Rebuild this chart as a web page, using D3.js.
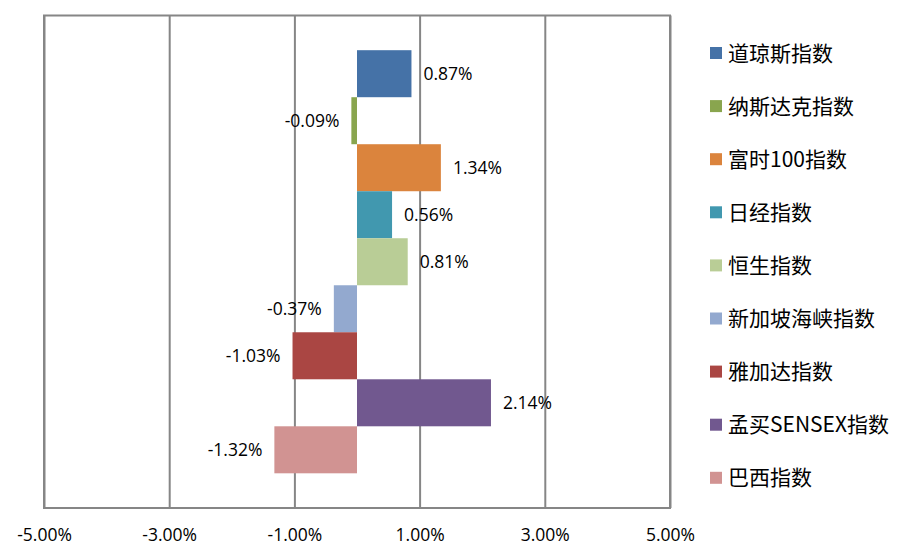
<!DOCTYPE html>
<html><head><meta charset="utf-8">
<script src="https://cdn.jsdelivr.net/npm/d3@7/dist/d3.min.js"></script>
<style>
html,body{margin:0;padding:0;background:#fff;}
svg{display:block;}
</style></head>
<body>
<svg id="chart" width="917" height="555"></svg>
<script>
const seriesNames = ["道琼斯指数","纳斯达克指数","富时100指数","日经指数","恒生指数","新加坡海峡指数","雅加达指数","孟买SENSEX指数","巴西指数"];
const seriesValues = [0.87, -0.09, 1.34, 0.56, 0.81, -0.37, -1.03, 2.14, -1.32];
const seriesColors = ["#4572A7","#89A54E","#DB843D","#4198AF","#B9CD96","#93A9CF","#AA4643","#71588F","#D19392"];
const tickValues = [-5, -3, -1, 1, 3, 5];
const tickLabels = ["-5.00%","-3.00%","-1.00%","1.00%","3.00%","5.00%"];

const svg = d3.select("#chart");
const plot = {left: 44, right: 670, top: 15.5, bottom: 508};
const latin = "'Open Sans', 'Noto Sans', sans-serif";
const cjk = "'Noto Sans CJK SC', sans-serif";
const gridColor = "#868686";

const x = d3.scaleLinear().domain([-5, 5]).range([plot.left, plot.right]);
const yGroup = d3.scaleBand().domain(["g"]).range([plot.top, plot.bottom]).paddingInner(0).paddingOuter(0.082);
const y = d3.scaleBand().domain(seriesNames).range([yGroup("g"), yGroup("g") + yGroup.bandwidth()]).padding(0);

// gridlines
const grid = svg.append("g")
  .attr("transform", `translate(0,${plot.bottom})`)
  .call(d3.axisBottom(x).tickValues(tickValues).tickSize(-(plot.bottom - plot.top)).tickFormat(""));
grid.select(".domain").remove();
grid.selectAll(".tick line").attr("stroke", gridColor).attr("stroke-width", 2);

// plot border
svg.append("rect")
  .attr("x", plot.left).attr("y", plot.top)
  .attr("width", plot.right - plot.left).attr("height", plot.bottom - plot.top)
  .attr("fill", "none").attr("stroke", gridColor).attr("stroke-width", 2);

// bars
svg.append("g").selectAll("rect")
  .data(seriesNames)
  .join("rect")
  .attr("x", (d, i) => Math.min(x(0), x(seriesValues[i])))
  .attr("y", d => y(d))
  .attr("width", (d, i) => Math.abs(x(seriesValues[i]) - x(0)))
  .attr("height", y.bandwidth())
  .attr("fill", (d, i) => seriesColors[i]);

// data labels
svg.append("g").selectAll("text")
  .data(seriesNames)
  .join("text")
  .attr("x", (d, i) => seriesValues[i] >= 0 ? x(seriesValues[i]) + 12 : x(seriesValues[i]) - 12)
  .attr("y", d => y(d) + y.bandwidth() / 2)
  .attr("dy", "0.36em")
  .attr("text-anchor", (d, i) => seriesValues[i] >= 0 ? "start" : "end")
  .attr("font-family", latin).attr("font-size", 17.5).attr("fill", "#000")
  .text((d, i) => seriesValues[i].toFixed(2) + "%");

// x axis labels
const ax = svg.append("g")
  .attr("transform", `translate(0,${plot.bottom})`)
  .call(d3.axisBottom(x).tickValues(tickValues).tickSize(0).tickPadding(21)
    .tickFormat((d, i) => tickLabels[i]));
ax.select(".domain").remove();
ax.selectAll("text").attr("font-family", latin).attr("font-size", 17.5).attr("fill", "#000");

// legend
const legend = svg.append("g").selectAll("g")
  .data(seriesNames)
  .join("g")
  .attr("transform", (d, i) => `translate(710,${53 + i * 53.1})`);
legend.append("rect")
  .attr("x", 0).attr("y", -6).attr("width", 12).attr("height", 12)
  .attr("fill", (d, i) => seriesColors[i]);
legend.append("text")
  .attr("x", 18).attr("y", 0).attr("dy", "0.36em")
  .attr("font-family", cjk).attr("font-size", 21).attr("fill", "#000")
  .text(d => d);
</script>
</body></html>
